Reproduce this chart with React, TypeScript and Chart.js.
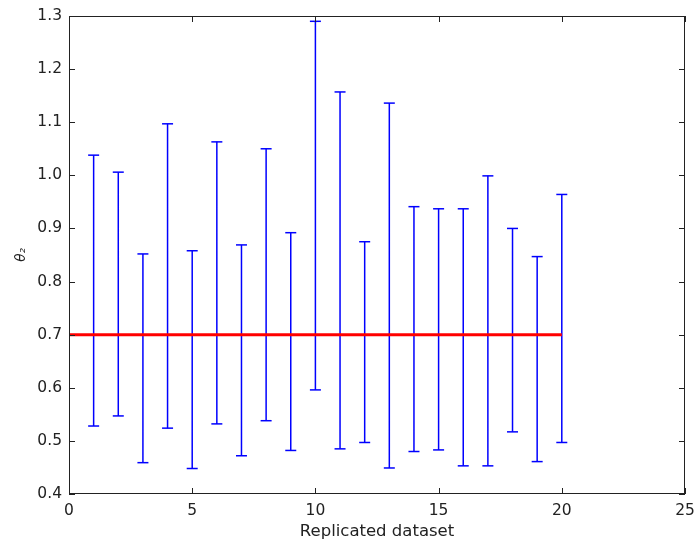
import React, { useEffect, useRef } from "react";
import { Chart, registerables } from "chart.js";

Chart.register(...registerables);

const datasetIds = [1, 2, 3, 4, 5, 6, 7, 8, 9, 10, 11, 12, 13, 14, 15, 16, 17, 18, 19, 20];
const lowerValues = [0.528, 0.547, 0.459, 0.524, 0.448, 0.532, 0.472, 0.538, 0.482, 0.596, 0.485, 0.497, 0.449, 0.48, 0.483, 0.453, 0.453, 0.517, 0.461, 0.497];
const upperValues = [1.038, 1.006, 0.852, 1.097, 0.858, 1.063, 0.869, 1.05, 0.892, 1.29, 1.157, 0.875, 1.136, 0.941, 0.937, 0.937, 0.999, 0.9, 0.847, 0.964];
const referenceValue = 0.7;
const referenceStart = 0;
const referenceEnd = 20;
const xTicks = [0, 5, 10, 15, 20, 25];
const yTicks = [0.4, 0.5, 0.6, 0.7, 0.8, 0.9, 1.0, 1.1, 1.2, 1.3];

const framePlugin = {
  id: "frameTicks",
  afterDraw(chart: any) {
    const { ctx, chartArea, scales } = chart;
    const { left, right, top, bottom } = chartArea;
    ctx.save();
    ctx.strokeStyle = "#222";
    ctx.lineWidth = 1;
    ctx.strokeRect(left + 0.5, top + 0.5, right - left - 1, bottom - top - 1);
    const len = 6;
    ctx.beginPath();
    xTicks.forEach((v) => {
      const px = Math.round(scales.x.getPixelForValue(v)) + 0.5;
      ctx.moveTo(px, bottom);
      ctx.lineTo(px, bottom - len);
      ctx.moveTo(px, top);
      ctx.lineTo(px, top + len);
    });
    yTicks.forEach((v) => {
      const py = Math.round(scales.y.getPixelForValue(v)) + 0.5;
      ctx.moveTo(left, py);
      ctx.lineTo(left + len, py);
      ctx.moveTo(right, py);
      ctx.lineTo(right - len, py);
    });
    ctx.stroke();
    ctx.restore();
  },
};

export default function App() {
  const ref = useRef<HTMLCanvasElement | null>(null);
  useEffect(() => {
    document.body.style.margin = "0";
    if (!ref.current) return;
    Chart.defaults.font.family = "'DejaVu Sans'";
    Chart.defaults.color = "#222";

    const errData: any[] = [];
    datasetIds.forEach((x, i) => {
      errData.push({ x, y: lowerValues[i] });
      errData.push({ x, y: upperValues[i] });
      errData.push({ x, y: null });
    });

    const chart = new Chart(ref.current, {
      type: "scatter",
      data: {
        datasets: [
          {
            label: "reference",
            data: [
              { x: referenceStart, y: referenceValue },
              { x: referenceEnd, y: referenceValue },
            ],
            showLine: true,
            borderColor: "#ff0000",
            borderWidth: 3,
            pointRadius: 0,
          },
          {
            label: "intervals",
            data: errData,
            showLine: true,
            spanGaps: false,
            borderColor: "#0000ff",
            borderWidth: 1.5,
            pointStyle: "line",
            pointRadius: 5.5,
            pointBorderWidth: 1.5,
            pointBorderColor: "#0000ff",
            pointBackgroundColor: "#0000ff",
          } as any,
        ],
      },
      options: {
        animation: false,
        responsive: false,
        events: [],
        layout: { padding: { top: 16, right: 11, left: 0, bottom: 0 } },
        plugins: { legend: { display: false }, tooltip: { enabled: false } },
        scales: {
          x: {
            type: "linear",
            min: 0,
            max: 25,
            grid: { display: false, drawTicks: false },
            border: { display: false },
            afterFit: (s: any) => {
              s.height = 56;
              s.paddingLeft = 0;
              s.paddingRight = 0;
            },
            afterBuildTicks: (s: any) => {
              s.ticks = xTicks.map((v) => ({ value: v }));
            },
            ticks: { padding: 8, font: { size: 15.5 }, color: "#222", callback: (v: any) => String(v) },
            title: { display: true, text: "Replicated dataset", font: { size: 16.5 }, color: "#222", padding: { top: 0, bottom: 8 } },
          },
          y: {
            type: "linear",
            min: 0.4,
            max: 1.3,
            grid: { display: false, drawTicks: false },
            border: { display: false },
            afterFit: (s: any) => {
              s.width = 69;
              s.paddingTop = 0;
              s.paddingBottom = 0;
            },
            afterBuildTicks: (s: any) => {
              s.ticks = yTicks.map((v) => ({ value: v }));
            },
            ticks: { padding: 7, font: { size: 15.5 }, color: "#222", callback: (v: any) => Number(v).toFixed(1) },
            title: { display: true, text: "θ₂", font: { size: 13.5, style: "italic" }, color: "#222", padding: { top: 13, bottom: 0 } },
          },
        },
      },
      plugins: [framePlugin],
    });
    return () => chart.destroy();
  }, []);
  return <canvas ref={ref} width={696} height={550} style={{ display: "block", width: 696, height: 550 }} />;
}
